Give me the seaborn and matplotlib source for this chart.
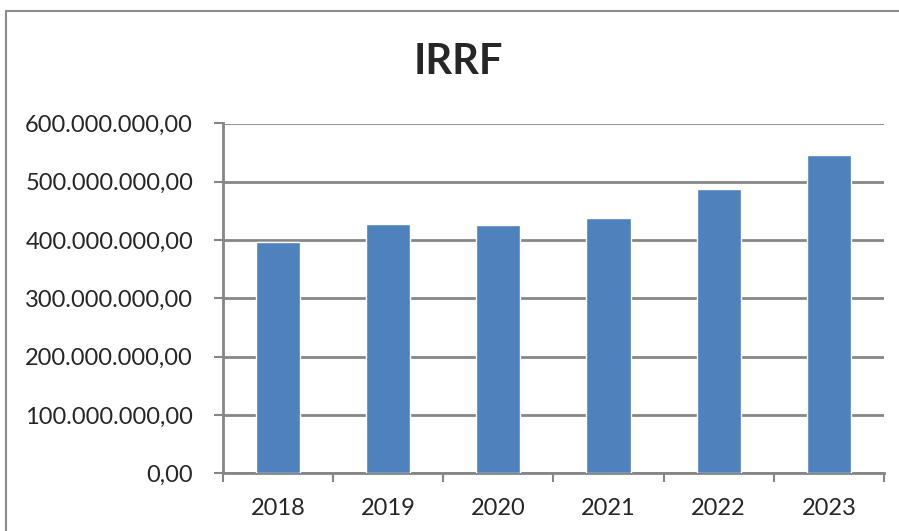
import matplotlib.pyplot as plt
import matplotlib.patches as mpatches
from matplotlib.ticker import FuncFormatter, FixedLocator, MultipleLocator
import seaborn as sns
import pandas as pd

# data
years = ["2018", "2019", "2020", "2021", "2022", "2023"]
irrf = [396e6, 427e6, 426e6, 438e6, 487e6, 546e6]

df = pd.DataFrame({"ano": years, "irrf": irrf})

sns.set_style("white")
plt.rcParams["font.family"] = ["Lato", "DejaVu Sans"]

W, H = 899, 531
fig = plt.figure(figsize=(W / 100, H / 100), dpi=100)
ax = fig.add_axes([222.7 / W, (H - 473.3) / H, (884 - 222.7) / W, (473.3 - 123.5) / H])

sns.barplot(data=df, x="ano", y="irrf", color="#4F81BD", width=0.4,
            saturation=1, ax=ax, zorder=3)

grid_color = "#868686"
ax.set_ylim(0, 600e6)
ax.set_xlim(-0.5, len(years) - 0.5)
ax.yaxis.set_major_locator(MultipleLocator(100e6))
ax.yaxis.grid(True, color=grid_color, linewidth=2, zorder=0)
ax.set_axisbelow(True)


def br_fmt(v, pos):
    s = f"{v:,.2f}"
    return s.replace(",", "X").replace(".", ",").replace("X", ".")


ax.yaxis.set_major_formatter(FuncFormatter(br_fmt))
ax.tick_params(axis="y", which="major", direction="out", length=6.3, width=1.5,
               color=grid_color, labelsize=17, pad=15, left=True)
ax.tick_params(axis="x", which="major", length=0, labelsize=17, pad=18)
ax.xaxis.set_minor_locator(FixedLocator([i - 0.5 for i in range(len(years) + 1)]))
ax.tick_params(axis="x", which="minor", direction="out", length=6.5, width=1.5,
               color=grid_color, bottom=True)

for side in ["top", "right"]:
    ax.spines[side].set_visible(False)
for side in ["left", "bottom"]:
    ax.spines[side].set_color(grid_color)
    ax.spines[side].set_linewidth(2)

ax.set_xlabel("")
ax.set_ylabel("")

fig.text(458 / W, (H - 62) / H, "IRRF", ha="center", va="center",
         fontsize=30, fontweight="bold")

# chart area border (runs off the right/bottom edge like the reference crop)
border = mpatches.Rectangle((6 / W, -0.1), 1.2, (H - 11) / H + 0.1,
                            transform=fig.transFigure, fill=False,
                            edgecolor="#8c8c8c", linewidth=1.5, clip_on=False)
fig.patches.append(border)

fig.savefig("out.png", dpi=100)
